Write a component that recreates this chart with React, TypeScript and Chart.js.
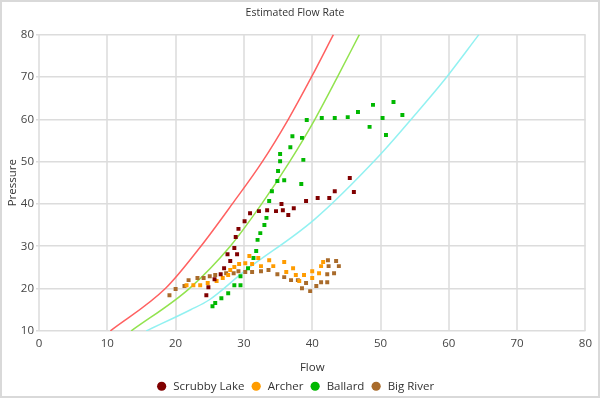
import React, { useEffect, useRef } from 'react';
import { Chart, registerables } from 'chart.js';
Chart.register(...registerables);

const seriesNames = ['Scrubby Lake', 'Archer', 'Ballard', 'Big River'];
const seriesColors = ['#800000', '#ff9c00', '#00b800', '#a96b2b'];

const scrubbyX = [45.5, 46.1, 43.3, 42.5, 40.8, 39.1, 37.3, 36.5, 35.7, 35.5, 34.7, 33.4, 32.2, 30.9, 30.1, 29.2, 28.8, 28.6, 29.0, 27.6, 28.0, 27.1, 26.6, 25.7, 24.8, 24.5];
const scrubbyY = [46.1, 42.8, 43.0, 41.4, 41.4, 40.7, 39.0, 37.4, 38.5, 40.0, 38.3, 38.5, 38.3, 37.8, 35.9, 34.1, 32.2, 29.6, 28.1, 28.1, 26.5, 24.8, 23.4, 22.2, 20.3, 18.4];

const archerX = [30.8, 32.1, 33.7, 35.9, 30.2, 31.2, 29.3, 28.6, 32.5, 34.3, 37.2, 28.0, 36.2, 40.0, 41.6, 41.3, 41.0, 27.7, 37.6, 38.8, 26.9, 40.0, 26.0, 38.1, 24.7, 23.6, 22.6, 21.6];
const archerY = [27.7, 27.2, 26.7, 26.3, 26.0, 25.8, 25.8, 25.1, 25.3, 25.3, 24.8, 24.4, 23.9, 24.1, 26.3, 25.3, 23.6, 23.2, 23.2, 23.2, 22.5, 22.5, 21.8, 21.8, 21.3, 20.8, 20.8, 20.8];

const ballardX = [35.3, 35.3, 38.7, 35.0, 34.9, 35.9, 38.4, 34.1, 33.7, 33.3, 33.0, 32.4, 32.0, 31.8, 31.4, 30.6, 29.5, 29.5, 28.6, 27.7, 26.7, 25.8, 25.4, 39.2, 41.4, 43.3, 45.2, 46.7, 48.9, 48.4, 50.3, 51.9, 53.2, 50.8, 37.1, 38.5, 36.8];
const ballardY = [51.8, 50.1, 50.4, 47.8, 45.4, 45.6, 44.7, 43.0, 40.7, 36.7, 35.0, 33.1, 31.5, 28.9, 27.2, 24.8, 22.9, 20.8, 20.8, 18.9, 17.7, 16.6, 15.8, 59.8, 60.3, 60.3, 60.5, 61.7, 63.4, 58.2, 60.3, 64.1, 61.0, 56.3, 56.0, 55.6, 53.4];

const bigRiverX = [42.3, 43.5, 43.9, 42.4, 42.2, 43.2, 41.3, 42.2, 40.6, 39.7, 38.5, 39.1, 37.9, 36.9, 35.9, 34.9, 33.6, 32.5, 31.2, 30.2, 29.2, 28.5, 27.4, 25.8, 25.0, 24.1, 23.2, 21.9, 21.3, 20.0, 19.1];
const bigRiverY = [26.7, 26.5, 25.3, 25.3, 23.4, 23.6, 21.5, 21.5, 20.6, 19.4, 20.1, 21.3, 22.0, 22.0, 22.7, 23.4, 24.4, 24.1, 23.9, 23.9, 24.1, 23.6, 23.6, 23.2, 22.9, 22.5, 22.5, 22.0, 20.6, 19.9, 18.4];

// Estimated flow curves
const redCurveX = [10.45, 18.5, 23.7, 28.3, 32.7, 36.5, 39.9, 43.1];
const redCurveY = [10, 20, 30, 40, 50, 60, 70, 80];
const greenCurveX = [13.5, 22.0, 28.0, 32.6, 36.7, 40.4, 43.7, 46.9];
const greenCurveY = [10, 20, 30, 40, 50, 60, 70, 80];
const cyanCurveX = [15.7, 22.2, 24.9, 30.0, 40.3, 49.7, 55.5, 59.4, 64.4];
const cyanCurveY = [10, 15, 17.3, 24.0, 36.3, 51.2, 61.9, 69.4, 80];
const curveColors = ['rgba(255,80,80,0.9)', 'rgba(140,225,70,0.95)', 'rgba(140,240,240,0.95)'];

const xTicks = [0, 10, 20, 30, 40, 50, 60, 70, 80];
const yTicks = [10, 20, 30, 40, 50, 60, 70, 80];

const zip = (xs: number[], ys: number[]) => xs.map((x, i) => ({ x, y: ys[i] }));

const FONT = '"Open Sans", "Noto Sans", sans-serif';

export default function App() {
  const ref = useRef<HTMLCanvasElement | null>(null);
  useEffect(() => {
    document.body.style.margin = '0';
    const ctx = ref.current!;
    const pts = [zip(scrubbyX, scrubbyY), zip(archerX, archerY), zip(ballardX, ballardY), zip(bigRiverX, bigRiverY)];
    const scatterSets = pts.map((d, i) => ({
      label: seriesNames[i],
      data: d,
      backgroundColor: seriesColors[i],
      borderColor: seriesColors[i],
      pointStyle: 'rect',
      pointRadius: 2.8,
      pointBorderWidth: 0,
      pointHoverRadius: 2.8,
      showLine: false,
    }));
    const curves = [zip(redCurveX, redCurveY), zip(greenCurveX, greenCurveY), zip(cyanCurveX, cyanCurveY)];
    const curveSets = curves.map((d, i) => ({
      label: 'curve' + i,
      data: d,
      borderColor: curveColors[i],
      backgroundColor: curveColors[i],
      borderWidth: 1.5,
      pointRadius: 0,
      showLine: true,
      cubicInterpolationMode: 'monotone',
      fill: false,
    }));
    const chart = new Chart(ctx, {
      type: 'scatter',
      data: { datasets: [...scatterSets, ...curveSets] as any },
      options: {
        animation: false,
        responsive: false,
        maintainAspectRatio: false,
        layout: { padding: { left: 0, right: 10, top: 0, bottom: -6 } },
        plugins: {
          title: {
            display: true,
            text: 'Estimated Flow Rate',
            color: '#333',
            font: { family: FONT, size: 10.5, weight: 'normal' },
            padding: { top: 5, bottom: 15 },
          },
          legend: {
            position: 'bottom',
            labels: {
              usePointStyle: true,
              pointStyle: 'circle',
              boxHeight: 6.5,
              color: '#333',
              font: { family: FONT, size: 11.5 },
              padding: 6,
              filter: (item: any) => item.datasetIndex < 4,
            },
          },
          tooltip: { enabled: false },
        },
        scales: {
          x: {
            type: 'linear',
            min: 0,
            max: 80,
            afterBuildTicks: (s: any) => { s.ticks = xTicks.map((v) => ({ value: v })); },
            grid: { color: '#e4e4e4', lineWidth: 2, drawTicks: false },
            border: { display: false },
            ticks: { color: '#444', font: { family: FONT, size: 11.5 }, padding: 6 },
            title: { display: true, text: 'Flow', color: '#333', font: { family: FONT, size: 11.5 }, padding: { top: 4, bottom: 0 } },
          },
          y: {
            type: 'linear',
            min: 10,
            max: 80,
            afterBuildTicks: (s: any) => { s.ticks = yTicks.map((v) => ({ value: v })); },
            afterFit: (s: any) => { s.width = 37; },
            grid: { color: '#dcdcdc', lineWidth: 1.5, tickLength: 3 },
            border: { display: false },
            ticks: { color: '#444', font: { family: FONT, size: 11.5 }, padding: 2 },
            title: { display: true, text: 'Pressure', color: '#333', font: { family: FONT, size: 11.5 }, padding: { top: 4, bottom: 0 } },
          },
        },
      } as any,
    });
    return () => chart.destroy();
  }, []);
  return (
    <div style={{ position: 'absolute', left: 0, top: 0, width: 600, height: 398, boxSizing: 'border-box', border: '2px solid #d9d9d9', background: '#fff' }}>
      <canvas ref={ref} width={596} height={394} style={{ display: 'block', width: 596, height: 394 }} />
    </div>
  );
}
